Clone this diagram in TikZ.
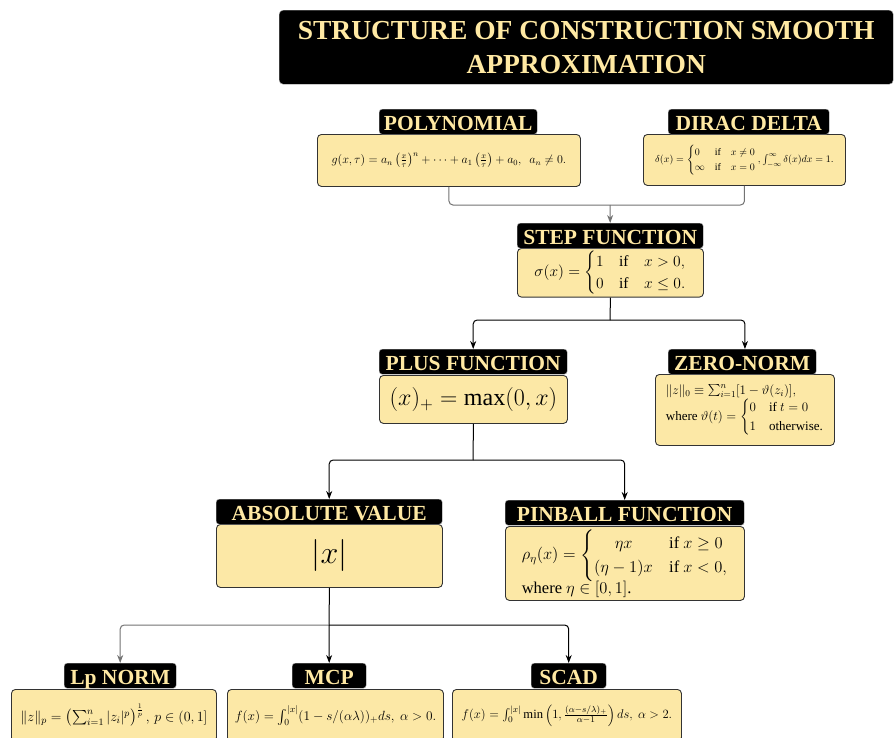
\RequirePackage{fix-cm}
\documentclass[tikz,border=0pt]{standalone}
\usepackage{amsmath}
\usepackage{fontspec}
\setmainfont{Liberation Serif}
\usetikzlibrary{arrows.meta}
\definecolor{boxfill}{HTML}{FCE8A6}
\definecolor{headtxt}{HTML}{FFE9A3}
\newcommand{\fs}[1]{\fontsize{#1}{1.2\dimexpr#1pt\relax}\selectfont}
\tikzset{
  headbox/.style={fill=black, draw=gray!70, rounded corners=3pt, text=headtxt,
    font=\bfseries\fs{21.5}, inner sep=0pt, text height=17pt, text depth=0pt,
    minimum height=25pt, anchor=north west},
  bodybox/.style={fill=boxfill, draw=black!80, line width=0.9pt, rounded corners=4pt,
    inner sep=2pt, anchor=north west},
  link/.style={line width=1pt, rounded corners=4pt, -{Stealth[length=8pt,width=6pt]}},
  graylink/.style={link, draw=black!55},
}
\begin{document}
\begin{tikzpicture}[x=1pt, y=-1pt, line join=round]
  \clip (0,0) rectangle (895,737);
  \fill[white] (0,0) rectangle (895,737);
  % title
  \node[fill=black, draw=gray!70, rounded corners=4pt, text=headtxt, align=center,
    font=\bfseries\fontsize{27.5}{34}\selectfont, minimum width=614pt, minimum height=74pt,
    anchor=north west] (title) at (279,10)
    {STRUCTURE OF CONSTRUCTION SMOOTH\\APPROXIMATION};

  % first row
  \node[bodybox, minimum width=263pt, minimum height=52pt] (poly) at (317,134)
    {\fs{12}$g(x,\tau)=a_n\left(\frac{x}{\tau}\right)^n+\cdots+a_1\left(\frac{x}{\tau}\right)+a_0,\ \ a_n\neq0.$};
  \node[headbox, minimum width=158pt] (polyhd) at (379,109) {POLYNOMIAL};

  \node[bodybox, minimum width=202pt, minimum height=51pt] (dirac) at (643,134)
    {\fs{10}$\delta(x)=\begin{cases}0 & \text{if}\quad x\neq0\\ \infty & \text{if}\quad x=0\end{cases},\int_{-\infty}^{\infty}\delta(x)dx=1.$};
  \node[headbox, minimum width=161pt] (diracdhd) at (668,109) {DIRAC DELTA};

  % step function
  \node[bodybox, minimum width=186pt, minimum height=44pt] (step) at (517,248)
    {\fs{15.5}$\sigma(x)=\begin{cases}1 & \text{if}\quad x>0,\\ 0 & \text{if}\quad x\leq0.\end{cases}$};
  \node[headbox, minimum width=186pt] (stephd) at (517,223) {STEP FUNCTION};

  \coordinate (m1) at (610,205);
  \draw[line width=1pt, draw=black!55, rounded corners=4pt] (poly.south) |- (m1) -| (dirac.south);
  \draw[graylink] (m1) -- (stephd.north);

  % second row
  \node[bodybox, minimum width=188pt, minimum height=48pt] (plus) at (379,375)
    {\fs{24}$(x)_+=\max(0,x)$};
  \node[headbox, minimum width=188pt] (plushd) at (379,349) {PLUS FUNCTION};

  \node[bodybox, minimum width=179pt, minimum height=71pt, align=left] (zero) at (655,374)
    {\fs{13}$\|z\|_0\equiv\sum_{i=1}^{n}[1-\vartheta(z_i)],$\\[0pt]
     \fs{13}where $\vartheta(t)=\begin{cases}0 & \text{if } t=0\\ 1 & \text{otherwise.}\end{cases}$};
  \node[headbox, minimum width=148pt] (zerohd) at (668,349) {ZERO-NORM};

  \coordinate (m2) at (610,320);
  \draw[line width=1pt] (step.south) -- (m2);
  \draw[link] (m2) -| (plushd.north);
  \draw[link] (m2) -| (zero.north |- zerohd.north);

  % third row
  \node[bodybox, minimum width=226pt, minimum height=63pt] (absv) at (216,524)
    {\fs{32}$|x|$};
  \node[headbox, minimum width=226pt] (absvhd) at (216,499) {ABSOLUTE VALUE};

  \node[bodybox, minimum width=239pt, minimum height=74pt, align=left] (pinb) at (505,526)
    {\fs{16.5}$\rho_\eta(x)=\begin{cases}\quad\ \eta x & \text{if } x\geq0\\ (\eta-1)x & \text{if } x<0,\end{cases}$\\[-2pt]
     \fs{16.5}where $\eta\in[0,1]$.};
  \node[headbox, minimum width=239pt] (pinbhd) at (505,500) {PINBALL FUNCTION};

  \coordinate (m3) at (473,460);
  \draw[line width=1pt] (plus.south) -- (m3);
  \draw[link] (m3) -| (absvhd.north);
  \draw[link] (m3) -| (pinbhd.north);

  % last row
  \node[bodybox, minimum width=205pt, minimum height=52pt] (lpn) at (11,689)
    {\fs{14}$\|z\|_p=\left(\sum_{i=1}^{n}|z_i|^p\right)^{\frac{1}{p}},\,p\in(0,1]$};
  \node[headbox, minimum width=112pt] (lpnhd) at (64,663) {Lp NORM};

  \node[bodybox, minimum width=216pt, minimum height=52pt] (mcp) at (227,689)
    {\fs{13.3}$f(x)=\int_0^{|x|}(1-s/(\alpha\lambda))_+ds,\ \alpha>0.$};
  \node[headbox, minimum width=74pt] (mcphd) at (292,663) {MCP};

  \node[bodybox, minimum width=229pt, minimum height=52pt] (scad) at (452,689)
    {\fs{12.6}$f(x)=\int_0^{|x|}\min\left(1,\frac{(\alpha-s/\lambda)_+}{\alpha-1}\right)ds,\ \alpha>2.$};
  \node[headbox, minimum width=75pt] (scadhd) at (531,663) {SCAD};

  \coordinate (m4) at (329,625);
  \draw[line width=1pt] (absv.south) -- (m4);
  \draw[graylink] (m4) -| (lpnhd.north);
  \draw[link] (m4) -- (mcphd.north);
  \draw[link] (m4) -| (scadhd.north);
\end{tikzpicture}
\end{document}
